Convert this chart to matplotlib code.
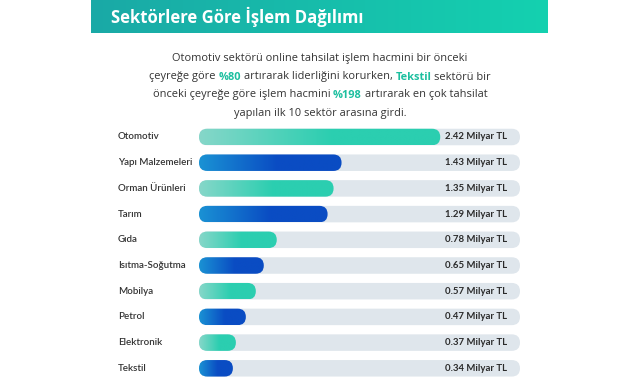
import numpy as np
import matplotlib
matplotlib.use("Agg")
import matplotlib.pyplot as plt
from matplotlib.patches import FancyBboxPatch
from matplotlib.colors import to_rgb
import matplotlib.transforms as mtransforms

plt.rcParams['font.family'] = ['Lato', 'DejaVu Sans']

# ---- data ----
categories = ["Otomotiv", "Yapı Malzemeleri", "Orman Ürünleri", "Tarım", "Gıda",
              "Isıtma-Soğutma", "Mobilya", "Petrol", "Elektronik", "Tekstil"]
values = [2.42, 1.43, 1.35, 1.29, 0.78, 0.65, 0.57, 0.47, 0.37, 0.34]
value_labels = ["2.42 Milyar TL", "1.43 Milyar TL", "1.35 Milyar TL", "1.29 Milyar TL",
                "0.78 Milyar TL", "0.65 Milyar TL", "0.57 Milyar TL", "0.47 Milyar TL",
                "0.37 Milyar TL", "0.34 Milyar TL"]
title = "Sektörlere Göre İşlem Dağılımı"
teal_txt = "#1cbf9f"
dark = "#333333"
subtitle_lines = [
    [("Otomotiv sektörü online tahsilat işlem hacmini bir önceki", dark, "normal")],
    [("çeyreğe göre", dark, "normal"), (" %80", teal_txt, "bold"),
     (" artırarak liderliğini korurken,", dark, "normal"), (" Tekstil", teal_txt, "bold"),
     (" sektörü bir", dark, "normal")],
    [("önceki çeyreğe göre işlem hacmini", dark, "normal"), (" %198", teal_txt, "bold"),
     (" artırarak en çok tahsilat", dark, "normal")],
    [("yapılan ilk 10 sektör arasına girdi.", dark, "normal")],
]

W, H = 640, 388
fig = plt.figure(figsize=(6.4, 3.88), dpi=100)
fig.patch.set_facecolor("white")

# ---- header band with gradient ----
hax = fig.add_axes([91 / W, 1 - 33 / H, (548 - 91) / W, 33 / H])
hax.set_axis_off()
c0, c1 = np.array(to_rgb("#1aa9a6")), np.array(to_rgb("#14d1b0"))
t = np.linspace(0, 1, 256)
grad = (c0[None, :] * (1 - t[:, None]) + c1[None, :] * t[:, None])[None, :, :]
hax.imshow(grad, aspect="auto", extent=[0, 1, 0, 1])
hax.set_xlim(0, 1); hax.set_ylim(0, 1)
fig.text(111 / W, 1 - 17 / H, title, color="white", fontsize=12.0, fontweight="bold",
         va="center", ha="left", family=["Open Sans", "DejaVu Sans"])

# ---- subtitle with coloured segments ----
renderer = fig.canvas.get_renderer()
sub_family = ["Open Sans", "DejaVu Sans"]
sub_size = 7.9

def text_width(s, weight="normal"):
    tx = fig.text(0, 0, s, fontsize=sub_size, fontweight=weight, family=sub_family)
    w = tx.get_window_extent(renderer).width
    tx.remove()
    return w

space_w = text_width("n n") - text_width("nn")

line_y = [58, 77, 95, 113]
for yy, segs in zip(line_y, subtitle_lines):
    items = []
    total = 0.0
    for s, c, w in segs:
        lead = space_w if s.startswith(" ") else 0.0
        core = s.strip()
        tx = fig.text(0, 1 - yy / H, core, color=c, fontweight=w, fontsize=sub_size,
                      va="center", ha="left", family=sub_family)
        wd = tx.get_window_extent(renderer).width
        items.append((tx, lead, wd))
        total += lead + wd
    x = 320 - total / 2
    for tx, lead, wd in items:
        x += lead
        tx.set_x(x / W)
        x += wd

# ---- bars ----
row0, row_step = 137.0, 25.7
n = len(categories)
top_px = row0 - row_step / 2
bot_px = row0 + (n - 1) * row_step + row_step / 2
ax = fig.add_axes([199 / W, 1 - bot_px / H, (520 - 199) / W, (bot_px - top_px) / H])
ax.set_axis_off()
xmax = 3.22
ax.set_xlim(0, xmax)
ax.set_ylim(n - 0.5, -0.5)

ax_w_px = (520 - 199)
ax_h_px = (bot_px - top_px)
xu_per_px = xmax / ax_w_px
yu_per_px = n / ax_h_px
bar_h = 16.5 * yu_per_px
r_x = 8.25 * xu_per_px
aspect = yu_per_px / xu_per_px

track_color = "#dfe6ec"
teal = ("#86d7c9", "#2bceb0")
blue = ("#1a92d4", "#0a4cc3")

def pill(x0, w, y, **kw):
    return FancyBboxPatch((x0, y - bar_h / 2), w, bar_h,
                          boxstyle=f"round,pad=0,rounding_size={r_x}",
                          mutation_aspect=aspect, linewidth=0, **kw)

val_tr = mtransforms.blended_transform_factory(ax.transAxes, ax.transData)
cat_tr = mtransforms.blended_transform_factory(fig.transFigure, ax.transData)
for i, (cat, v, lab) in enumerate(zip(categories, values, value_labels)):
    ax.add_patch(pill(0, xmax, i, facecolor=track_color, zorder=1))
    cols = teal if i % 2 == 0 else blue
    p = pill(0, v, i, facecolor="none", zorder=2)
    ax.add_patch(p)
    a0, a1 = np.array(to_rgb(cols[0])), np.array(to_rgb(cols[1]))
    tt = np.clip(np.linspace(0, 1, 200) / 0.55, 0, 1)
    g = (a0[None, :] * (1 - tt[:, None]) + a1[None, :] * tt[:, None])[None, :, :]
    im = ax.imshow(g, aspect="auto", extent=[0, v, i + bar_h / 2, i - bar_h / 2],
                   zorder=2, interpolation="bilinear")
    im.set_clip_path(p)
    ax.text((507 - 199) / ax_w_px, i, lab, transform=val_tr,
            ha="right", va="center", fontsize=6.9, fontweight="bold", color="#2a2a2a", zorder=3)
    fig.text(118 / W, i, cat, transform=cat_tr,
             ha="left", va="center", fontsize=7.0, fontweight="semibold", color="#333333")

ax.set_xlim(0, xmax)
ax.set_ylim(n - 0.5, -0.5)

fig.savefig("out.png", dpi=100, facecolor="white")
